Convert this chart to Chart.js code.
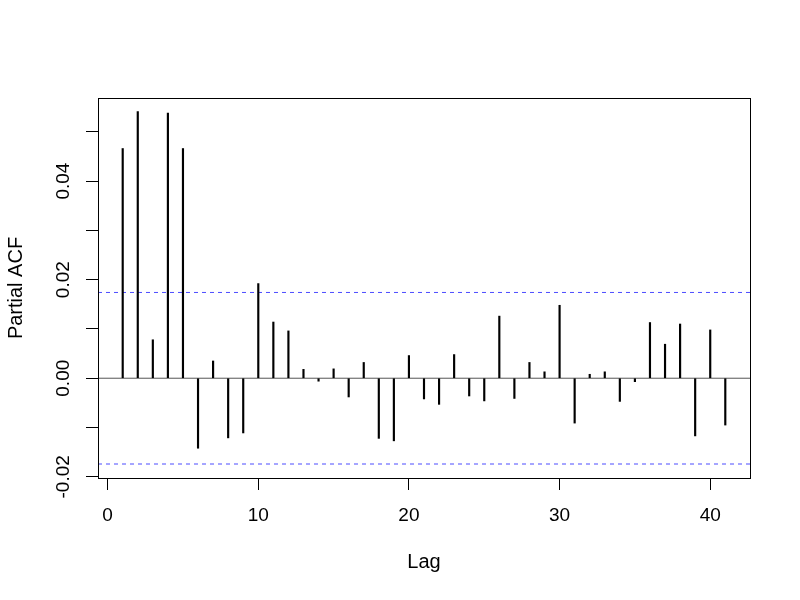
<!DOCTYPE html>
<html>
<head>
<meta charset="utf-8">
<script src="https://cdn.jsdelivr.net/npm/chart.js@4/dist/chart.umd.min.js"></script>
<style>
html,body{margin:0;padding:0;background:#fff;}
#wrap{width:800px;height:600px;}
</style>
</head>
<body>
<div id="wrap"><canvas id="c" width="800" height="600"></canvas></div>
<script>
const lags = [1,2,3,4,5,6,7,8,9,10,11,12,13,14,15,16,17,18,19,20,21,22,23,24,25,26,27,28,29,30,31,32,33,34,35,36,37,38,39,40,41];
const pacf = [0.0466,0.0541,0.0078,0.0538,0.0466,-0.0142,0.0035,-0.0121,-0.0111,0.0192,
  0.0114,0.0096,0.0018,-0.0006,0.0019,-0.0038,0.0032,-0.0122,-0.0127,0.0046,
  -0.0042,-0.0053,0.0048,-0.0036,-0.0046,0.0126,-0.0041,0.0032,0.0013,0.0148,
  -0.0091,0.0008,0.0013,-0.0047,-0.0007,0.0113,0.0069,0.0110,-0.0117,0.0098,-0.0095];
const ciBound = 0.0174;
const xTicks = [0,10,20,30,40];
const yTicks = [-0.02,-0.01,0.00,0.01,0.02,0.03,0.04,0.05];
const yTickLabels = {"-0.02":"-0.02","0.00":"0.00","0.02":"0.02","0.04":"0.04"};
const xRange = [-0.64, 42.64];
const yRange = [-0.02024, 0.05685];

const FONT = "'Liberation Sans', Arial, Helvetica, sans-serif";

const rPlugin = {
  id: 'rStyle',
  afterDraw(chart) {
    const ctx = chart.ctx, a = chart.chartArea, ys = chart.scales.y;
    ctx.save();
    ctx.strokeStyle = '#000';
    ctx.lineWidth = 1;
    ctx.strokeRect(Math.round(a.left) + 0.5, Math.round(a.top) + 0.5,
      Math.round(a.right - a.left), Math.round(a.bottom - a.top));
    ctx.fillStyle = '#000';
    ctx.font = '19px ' + FONT;
    ctx.textAlign = 'center';
    ctx.textBaseline = 'middle';
    yTicks.forEach(v => {
      const key = v.toFixed(2) === '-0.00' ? '0.00' : v.toFixed(2);
      const lbl = yTickLabels[key];
      if (!lbl) return;
      const py = ys.getPixelForValue(v);
      ctx.save();
      ctx.translate(64, py);
      ctx.rotate(-Math.PI / 2);
      ctx.fillText(lbl, 0, 0);
      ctx.restore();
    });
    ctx.restore();
  }
};

new Chart(document.getElementById('c'), {
  data: {
    datasets: [
      {
        type: 'line',
        data: [{x: xRange[0], y: 0}, {x: xRange[1], y: 0}],
        borderColor: '#555', borderWidth: 1, pointRadius: 0, fill: false, order: 3
      },
      {
        type: 'line',
        data: [{x: xRange[0], y: ciBound}, {x: xRange[1], y: ciBound}],
        borderColor: '#4d4dff', borderWidth: 1, borderDash: [4, 4], pointRadius: 0, fill: false, order: 2
      },
      {
        type: 'line',
        data: [{x: xRange[0], y: -ciBound}, {x: xRange[1], y: -ciBound}],
        borderColor: '#4d4dff', borderWidth: 1, borderDash: [4, 4], pointRadius: 0, fill: false, order: 2
      },
      {
        type: 'bar',
        data: lags.map((l, i) => ({x: l, y: pacf[i]})),
        backgroundColor: '#000', borderWidth: 0, barThickness: 1.5, order: 1
      }
    ]
  },
  plugins: [rPlugin],
  options: {
    responsive: false,
    animation: false,
    events: [],
    layout: {padding: {left: 0, top: 98, right: 50, bottom: 0}},
    plugins: {legend: {display: false}, tooltip: {enabled: false}, title: {display: false}},
    scales: {
      x: {
        type: 'linear', position: 'bottom',
        min: xRange[0], max: xRange[1],
        offset: false,
        afterBuildTicks: s => { s.ticks = xTicks.map(v => ({value: v})); },
        afterFit: s => { s.height = 122; },
        grid: {drawOnChartArea: false, offset: false, drawTicks: true, tickLength: 12, color: '#000', tickColor: '#000', lineWidth: 1},
        border: {display: false},
        ticks: {color: '#000', font: {family: FONT, size: 19}, padding: 14, maxRotation: 0, autoSkip: false,
          callback: v => String(v)},
        title: {display: true, text: 'Lag', color: '#000', font: {family: FONT, size: 20}, padding: {top: 0, bottom: 26}}
      },
      y: {
        type: 'linear', position: 'left',
        min: yRange[0], max: yRange[1],
        afterBuildTicks: s => { s.ticks = yTicks.map(v => ({value: v})); },
        afterFit: s => { s.width = 98; },
        grid: {drawOnChartArea: false, drawTicks: true, tickLength: 12, color: '#000', tickColor: '#000', lineWidth: 1},
        border: {display: false},
        ticks: {display: false},
        title: {display: true, text: 'Partial ACF', color: '#000', font: {family: FONT, size: 20}, padding: {top: 4, bottom: 0}}
      }
    }
  }
});
</script>
</body>
</html>
